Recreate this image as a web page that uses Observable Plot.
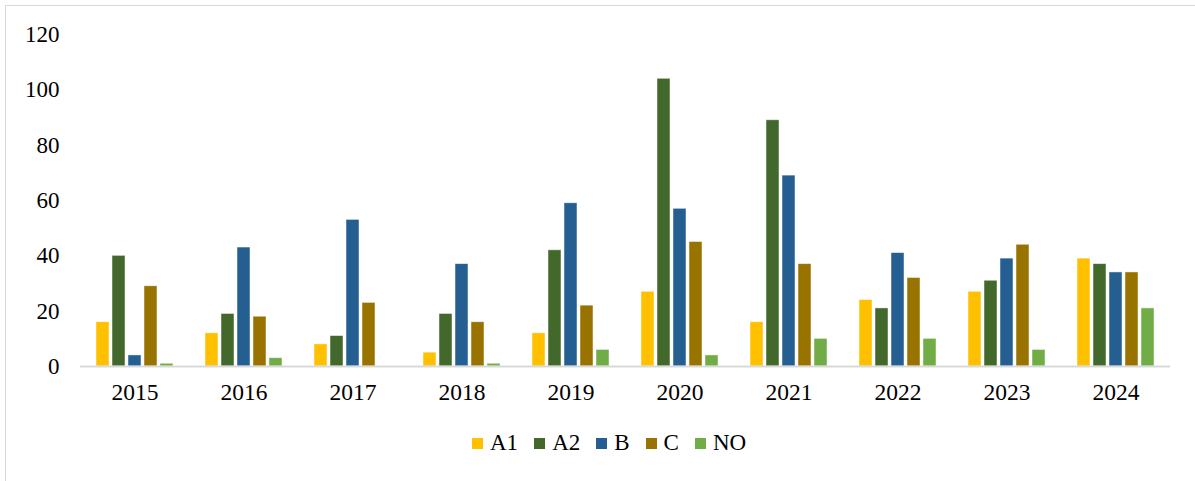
<!DOCTYPE html>
<html>
<head>
<meta charset="utf-8">
<script src="https://cdn.jsdelivr.net/npm/d3@7"></script>
<script src="https://cdn.jsdelivr.net/npm/@observablehq/plot@0.6"></script>
<style>
  html, body { margin: 0; padding: 0; background: #fff; }
  #wrap { position: relative; width: 1195px; height: 481px; overflow: hidden; font-family: "Liberation Serif", "Times New Roman", serif; }
  #frame { position: absolute; left: 5px; top: 5px; width: 1300px; height: 600px; border-left: 1px solid #d9d9d9; border-top: 1px solid #d9d9d9; }
  #chart { position: absolute; left: 0; top: 0; }
  #legend { position: absolute; left: 472px; top: 430px; display: flex; align-items: center; font-size: 23px; color: #000; }
  .item { display: flex; align-items: center; margin-right: 16px; }
  .sw { width: 11px; height: 11px; margin-right: 7px; }
</style>
</head>
<body>
<div id="wrap">
  <div id="frame"></div>
  <div id="chart"></div>
  <div id="legend"></div>
</div>
<script>
const years = ["2015","2016","2017","2018","2019","2020","2021","2022","2023","2024"];
const seriesNames = ["A1","A2","B","C","NO"];
const seriesColors = ["#FFC000","#43682B","#255E91","#997300","#70AD47"];
const A1 = [16,12,8,5,12,27,16,24,27,39];
const A2 = [40,19,11,19,42,104,89,21,31,37];
const B  = [4,43,53,37,59,57,69,41,39,34];
const C  = [29,18,23,16,22,45,37,32,44,34];
const NO = [1,3,0,1,6,4,10,10,6,21];
const yTicks = [0,20,40,60,80,100,120];

const seriesValues = {A1, A2, B, C, NO};
const rows = [];
years.forEach((yr, i) => {
  seriesNames.forEach(s => rows.push({year: yr, series: s, value: seriesValues[s][i]}));
});

const chart = Plot.plot({
  width: 1195,
  height: 411,
  marginLeft: 79,
  marginRight: 25,
  marginTop: 34,
  marginBottom: 45,
  style: {fontFamily: "'Liberation Serif', 'Times New Roman', serif", fontSize: "23px", color: "#000", background: "transparent"},
  fx: {domain: years, padding: 0, label: null},
  x: {domain: seriesNames, paddingInner: 0.2, paddingOuter: 0.88, axis: null},
  y: {domain: [0, 120], label: null},
  color: {domain: seriesNames, range: seriesColors},
  marks: [
    Plot.axisFx({anchor: "bottom", tickSize: 0, tickPadding: 17, fontSize: 23.5, fill: "#000", label: null}),
    Plot.axisY(yTicks, {anchor: "left", tickSize: 0, tickPadding: 21, fontSize: 23, fill: "#000", label: null}),
    Plot.barY(rows, {fx: "year", x: "series", y: "value", fill: "series", stroke: "white", strokeOpacity: 0.6, strokeWidth: 0.8}),
    Plot.ruleY([0], {stroke: "#d9d9d9", strokeWidth: 2})
  ]
});
document.getElementById("chart").appendChild(chart);

const legend = document.getElementById("legend");
seriesNames.forEach((s, i) => {
  const item = document.createElement("div");
  item.className = "item";
  const sw = document.createElement("div");
  sw.className = "sw";
  sw.style.background = seriesColors[i];
  const t = document.createElement("span");
  t.textContent = s;
  item.appendChild(sw);
  item.appendChild(t);
  legend.appendChild(item);
});
</script>
</body>
</html>
